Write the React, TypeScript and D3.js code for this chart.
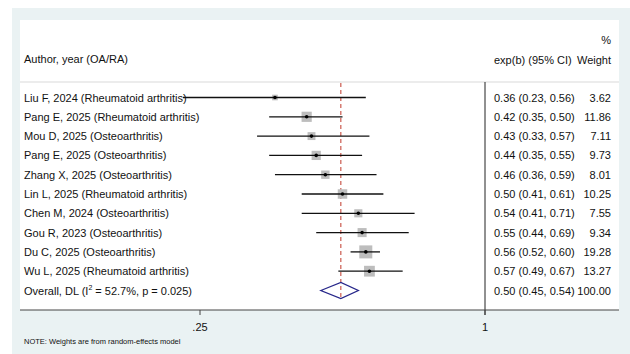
import React from "react";
import * as d3 from "d3";

const studies = [
  "Liu F, 2024 (Rheumatoid arthritis)",
  "Pang E, 2025 (Rheumatoid arthritis)",
  "Mou D, 2025 (Osteoarthritis)",
  "Pang E, 2025 (Osteoarthritis)",
  "Zhang X, 2025 (Osteoarthritis)",
  "Lin L, 2025 (Rheumatoid arthritis)",
  "Chen M, 2024 (Osteoarthritis)",
  "Gou R, 2023 (Osteoarthritis)",
  "Du C, 2025 (Osteoarthritis)",
  "Wu L, 2025 (Rheumatoid arthritis)",
];
const est = [0.36, 0.42, 0.43, 0.44, 0.46, 0.5, 0.54, 0.55, 0.56, 0.57];
const lower = [0.23, 0.35, 0.33, 0.35, 0.36, 0.41, 0.41, 0.44, 0.52, 0.49];
const upper = [0.56, 0.5, 0.57, 0.55, 0.59, 0.61, 0.71, 0.69, 0.6, 0.67];
const weights = [3.62, 11.86, 7.11, 9.73, 8.01, 10.25, 7.55, 9.34, 19.28, 13.27];
const overall = { label: "Overall, DL (I", est: 0.496, lo: 0.45, hi: 0.54, text: "0.50 (0.45, 0.54)", weight: "100.00" };
const ticks = [0.25, 1];
const tickLabels = [".25", "1"];

const W = 630, H = 354;
const FONT = "'Liberation Sans', Arial, sans-serif";

export default function App() {
  const x = d3.scaleLog().domain([0.25, 1]).range([200, 485]);
  const y = d3.scaleLinear().domain([0, 10]).range([97.5, 290.5]);
  const fmt = d3.format(".2f");
  const boxK = 2.96;
  const oy = y(10);
  const diamond = d3.line()([
    [x(overall.lo), oy],
    [x(overall.est), oy - 8],
    [x(overall.hi), oy],
    [x(overall.est), oy + 8],
  ]) + "Z";
  return (
    <svg width={W} height={H} style={{ position: "absolute", left: 0, top: 0 }}>
      <rect x={0} y={0} width={W} height={H} fill="#ffffff" />
      <rect x={12} y={8} width={W - 12} height={H - 8} fill="#eaf2f3" />
      <rect x={20} y={20} width={599} height={290} fill="#ffffff" />
      <line x1={20} x2={619} y1={82} y2={82} stroke="#d9d9d9" strokeWidth={1} />
      <line x1={x(1)} x2={x(1)} y1={82} y2={315} stroke="#222" strokeWidth={1} />
      <line x1={20} x2={619} y1={310} y2={310} stroke="#444" strokeWidth={1} />
      {ticks.map((t, i) => (
        <g key={i}>
          <line x1={x(t)} x2={x(t)} y1={310} y2={315} stroke="#444" strokeWidth={1} />
          <text x={x(t)} y={331} textAnchor="middle" fontFamily={FONT} fontSize={11} fill="#111">{tickLabels[i]}</text>
        </g>
      ))}
      <line x1={x(overall.est)} x2={x(overall.est)} y1={83} y2={300} stroke="#c0392b" strokeWidth={1} strokeDasharray="4,3" />
      <g fontFamily={FONT} fontSize={11} fill="#111">
        <text x={24} y={63}>Author, year (OA/RA)</text>
        <text x={611} y={44} textAnchor="end">%</text>
        <text x={494} y={64}>exp(b) (95% CI)</text>
        <text x={611} y={64} textAnchor="end">Weight</text>
      </g>
      {studies.map((s, i) => {
        const cy = y(i);
        const side = boxK * Math.sqrt(weights[i]);
        return (
          <g key={i}>
            <rect x={x(est[i]) - side / 2} y={cy - side / 2} width={side} height={side} fill="#bdbdbd" />
            <line x1={x(lower[i])} x2={x(upper[i])} y1={cy} y2={cy} stroke="#111" strokeWidth={1.3} />
            <circle cx={x(est[i])} cy={cy} r={1.8} fill="#000" />
            <text x={24} y={cy + 4} fontFamily={FONT} fontSize={11} fill="#111">{s}</text>
            <text x={494} y={cy + 4} fontFamily={FONT} fontSize={11} fill="#111">
              {`${fmt(est[i])} (${fmt(lower[i])}, ${fmt(upper[i])})`}
            </text>
            <text x={611} y={cy + 4} textAnchor="end" fontFamily={FONT} fontSize={11} fill="#111">{fmt(weights[i])}</text>
          </g>
        );
      })}
      <path d={diamond} fill="none" stroke="#27278a" strokeWidth={1.3} />
      <text x={24} y={oy + 4} fontFamily={FONT} fontSize={11} fill="#111">
        {overall.label}
        <tspan fontSize={7} dy={-5}>2</tspan>
        <tspan dy={5}> = 52.7%, p = 0.025)</tspan>
      </text>
      <text x={494} y={oy + 4} fontFamily={FONT} fontSize={11} fill="#111">{overall.text}</text>
      <text x={611} y={oy + 4} textAnchor="end" fontFamily={FONT} fontSize={11} fill="#111">{overall.weight}</text>
      <text x={24} y={344} fontFamily={FONT} fontSize={7.5} fill="#111">NOTE: Weights are from random-effects model</text>
    </svg>
  );
}
